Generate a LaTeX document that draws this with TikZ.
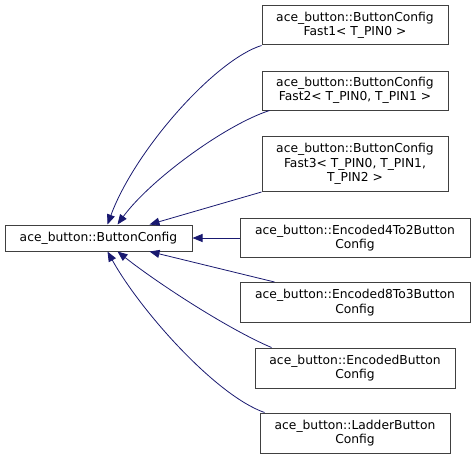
\documentclass[tikz,border=0pt]{standalone}
\usepackage{fontspec}
\setmainfont{DejaVu Sans}
\usepackage{tikz}
\usetikzlibrary{arrows.meta,positioning}
\usepackage{xcolor}
\definecolor{edgeblue}{RGB}{25,25,112}
\definecolor{boxgray}{RGB}{64,64,64}
\tikzstyle{classbox} = [draw=boxgray, fill=white, line width=1pt, align=center, inner sep=0pt,
  font=\fontsize{12.3}{14.5}\selectfont]
\tikzstyle{inherit} = [color=edgeblue, line width=0.8pt, {Triangle[length=10pt,width=8pt]}-]

\begin{document}
\begin{tikzpicture}[x=1pt, y=-1pt]
\useasboundingbox (0,0) rectangle (476,460);
% Base class
\node[classbox, minimum width=187pt, minimum height=26pt] (base) at (98.5,238) {ace\_button::ButtonConfig};

% Derived classes
\node[classbox, minimum width=186pt, minimum height=39pt] (fast1) at (355,25.5) {ace\_button::ButtonConfig\\Fast1< T\_PIN0 >};
\node[classbox, minimum width=186pt, minimum height=39pt] (fast2) at (355,90.5) {ace\_button::ButtonConfig\\Fast2< T\_PIN0, T\_PIN1 >};
\node[classbox, minimum width=186pt, minimum height=55pt] (fast3) at (355,164) {ace\_button::ButtonConfig\\Fast3< T\_PIN0, T\_PIN1,\\ T\_PIN2 >};
\node[classbox, minimum width=230pt, minimum height=39pt] (enc42) at (355,238) {ace\_button::Encoded4To2Button\\Config};
\node[classbox, minimum width=230pt, minimum height=40pt] (enc83) at (355,302.5) {ace\_button::Encoded8To3Button\\Config};
\node[classbox, minimum width=200pt, minimum height=40pt] (encoded) at (355,368) {ace\_button::EncodedButton\\Config};
\node[classbox, minimum width=190pt, minimum height=40pt] (ladder) at (355,433) {ace\_button::LadderButton\\Config};

% Inheritance edges
\draw[inherit] ([xshift=103pt]base.north west) .. controls (135,150) and (215,60) .. (fast1.south west);
\draw[inherit] ([xshift=113pt]base.north west) .. controls (150,180) and (225,125) .. ([xshift=8pt]fast2.south west);
\draw[inherit] ([xshift=145pt]base.north west) -- (fast3.south west);
\draw[inherit] (base.east) -- (enc42.west);
\draw[inherit] ([xshift=145pt]base.south west) -- ([xshift=35pt]enc83.north west);
\draw[inherit] ([xshift=113pt]base.south west) .. controls (160,285) and (230,330) .. ([xshift=17pt]encoded.north west);
\draw[inherit] ([xshift=103pt]base.south west) .. controls (140,310) and (215,395) .. ([xshift=5pt]ladder.north west);
\end{tikzpicture}
\end{document}
